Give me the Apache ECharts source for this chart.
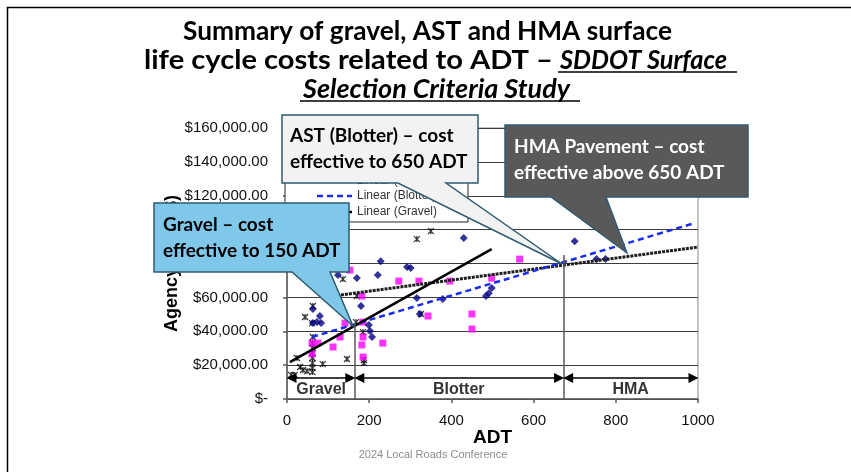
<!DOCTYPE html>
<html><head><meta charset="utf-8">
<script src="https://cdn.jsdelivr.net/npm/echarts@6/dist/echarts.min.js"></script>
<style>html,body{margin:0;padding:0;background:#fff}#c{width:851px;height:472px}</style>
</head><body><div id="c"></div>
<script>
// ---- data ----
const xTickValues = [0, 200, 400, 600, 800, 1000];
const yTickLabels = ['$-', '$20,000.00', '$40,000.00', '$60,000.00', '$80,000.00', '$100,000.00', '$120,000.00', '$140,000.00', '$160,000.00'];

const gravelPts = [
  [350, 99100], [316, 94400], [136, 70800], [170, 60800], [63, 54900], [44, 48400], [61, 44800],
  [63, 36600], [62, 33000], [62, 30100], [62, 27100], [62, 24200], [62, 21200], [62, 18300], [62, 15900],
  [24, 24200], [32, 18900], [39, 17100], [49, 16500], [10, 14200], [19, 14200], [87, 20600],
  [146, 23600], [187, 23000], [187, 21200], [168, 45400], [185, 39500], [326, 50200]
];
const blotterPts = [
  [153, 76100], [272, 69600], [321, 69600], [396, 69600], [566, 82600], [498, 71400], [182, 60800],
  [343, 49000], [450, 50200], [450, 41300], [141, 44800], [129, 36600], [112, 30700], [61, 33000],
  [75, 33000], [61, 26600], [182, 31900], [185, 24800], [233, 33000], [185, 36600], [185, 45400]
];
const hmaPts = [
  [430, 95000], [700, 93200], [228, 81400], [292, 77900], [301, 77300], [124, 73200], [170, 71400],
  [221, 73200], [753, 82600], [775, 82600], [498, 65500], [491, 62500], [484, 60800], [316, 59600],
  [379, 59000], [180, 54900], [323, 50200], [63, 53100], [80, 49000], [73, 45400], [83, 44800],
  [63, 44800], [136, 52500], [199, 43700], [202, 40100], [207, 36600]
];

const gravelTrend = [[7, 21800], [498, 88500]];
const blotterTrend = [[61, 36600], [991, 103800]];
const hmaTrend = [[112, 60800], [1000, 89700]];

const dividers = [[165, 45000], [673, 85000]];
const bandNames = ['Gravel', 'Blotter', 'HMA'];
const bandEdges = [0, 165, 673, 1000];
const bandArrowY = 12400;
const bandLabelPos = [[83, 5600], [418, 5600], [836, 5600]];

// ---- chart ----
const chart = echarts.init(document.getElementById('c'), null, {renderer: 'canvas'});
const axisFont = 'Liberation Sans, Arial, sans-serif';
const slideFont = 'Lato, Noto Sans, sans-serif';

const mc = document.createElement('canvas').getContext('2d');
function fitScale(txt, font, targetW) { mc.font = font; return targetW / mc.measureText(txt).width; }

const arrowData = [];
for (let i = 0; i < bandNames.length; i++) {
  arrowData.push([{coord: [bandEdges[i] + 11, bandArrowY]}, {coord: [bandEdges[i + 1] - 11, bandArrowY]}]);
}

const hmaLine = {color: '#1e1e1e', width: 3, type: [3, 1]};
const blotLine = {color: '#1a2cf0', width: 2.5, type: [6, 4]};
const gravLine = {color: '#000', width: 2.5};

const option = {
  animation: false,
  backgroundColor: '#fff',
  grid: {left: 287, right: 153, top: 128, bottom: 73, show: true, borderColor: '#8c8c8c', borderWidth: 1, backgroundColor: 'transparent'},
  xAxis: {
    type: 'value', min: 0, max: 1000, interval: 200,
    name: 'ADT', nameLocation: 'middle', nameGap: 29, nameMoveOverlap: false,
    nameTextStyle: {fontFamily: axisFont, fontWeight: 'bold', fontSize: 19, color: '#000'},
    axisLine: {show: true, lineStyle: {color: '#595959', width: 1.5}},
    axisTick: {show: true, length: 4, lineStyle: {color: '#595959', width: 1.5}},
    axisLabel: {fontFamily: axisFont, fontSize: 15, color: '#111', margin: 14,
      formatter: v => xTickValues.indexOf(v) >= 0 ? String(v) : ''},
    splitLine: {show: false}
  },
  yAxis: {
    type: 'value', min: 0, max: 160000, interval: 20000,
    name: 'Agency Cost ($)', nameLocation: 'middle', nameGap: 106, nameRotate: 90, nameMoveOverlap: false,
    nameTextStyle: {fontFamily: axisFont, fontWeight: 'bold', fontSize: 18, color: '#000'},
    axisLine: {show: true, lineStyle: {color: '#595959', width: 1.5}},
    axisTick: {show: true, length: 4, lineStyle: {color: '#595959', width: 1.5}},
    axisLabel: {fontFamily: axisFont, fontSize: 15, color: '#111', margin: 19,
      formatter: v => yTickLabels[Math.round(v / 20000)]},
    splitLine: {show: true, lineStyle: {color: '#3c3c3c', width: 1}}
  },
  series: [
    {name: 'Gravel', type: 'scatter', data: gravelPts, symbol: 'path://M0,0L10,10M10,0L0,10M5,0L5,10', symbolSize: 6,
      itemStyle: {color: 'rgba(0,0,0,0)', borderColor: '#000', borderWidth: 1.2}, z: 3},
    {name: 'Blotter', type: 'scatter', data: blotterPts, symbol: 'rect', symbolSize: 7,
      itemStyle: {color: '#ff00ff'}, z: 3},
    {name: 'HMA', type: 'scatter', data: hmaPts, symbol: 'diamond', symbolSize: 8,
      itemStyle: {color: '#000080'}, z: 3},
    {name: 'Linear (HMA)', type: 'line', data: hmaTrend, symbol: 'none', z: 4, lineStyle: hmaLine},
    {name: 'Linear (Blotter)', type: 'line', data: blotterTrend, symbol: 'none', z: 4, lineStyle: blotLine},
    {name: 'Linear (Gravel)', type: 'line', data: gravelTrend, symbol: 'none', z: 4, lineStyle: gravLine},
    {name: 'dividers', type: 'line', data: [], z: 2,
      markLine: {silent: true, symbol: 'none', label: {show: false},
        lineStyle: {color: '#595959', width: 1.5, type: 'solid'},
        data: dividers.map(d => [{coord: [d[0], 0]}, {coord: [d[0], d[1]]}])}},
    {name: 'bands', type: 'line', data: [], z: 5,
      markLine: {silent: true, symbol: ['triangle', 'triangle'], symbolSize: [10, 10], label: {show: false},
        lineStyle: {color: '#000', width: 1.5, type: 'solid'}, data: arrowData}},
    {name: 'bandLabels', type: 'scatter', symbolSize: 0, z: 5,
      data: bandLabelPos.map((p, i) => [p[0], p[1], bandNames[i]]),
      label: {show: true, position: 'inside', formatter: p => p.value[2],
        fontFamily: axisFont, fontWeight: 'bold', fontSize: 16, color: '#000'}}
  ],
  graphic: []
};

const teal = '#2e5b70';
function callout(points, fill) {
  return {type: 'polygon', z: 100, shape: {points: points}, style: {fill: fill, stroke: teal, lineWidth: 1.5}};
}
function ctext(x, y, txt, color, size) {
  return {type: 'text', z: 101, x: x, y: y, style: {text: txt, fill: color, font: 'bold ' + size + 'px ' + slideFont, textVerticalAlign: 'middle', lineHeight: 26}};
}
function legendEntry(y, ls, label) {
  return [
    {type: 'line', z: 6, shape: {x1: 317, y1: y, x2: 352, y2: y}, style: {stroke: ls.color, lineWidth: ls.width, lineDash: Array.isArray(ls.type) ? ls.type : null}},
    {type: 'text', z: 6, x: 357, y: y, style: {text: label, fill: '#333', font: '12px ' + axisFont, textVerticalAlign: 'middle'}}
  ];
}
const tFont = 'bold 27px ' + slideFont;
const tiFont = 'italic bold 27px ' + slideFont;
const t1 = 'Summary of gravel, AST and HMA surface';
const t2a = 'life cycle costs related to ADT – ';
const t2b = 'SDDOT Surface';
const t3 = 'Selection Criteria Study';
function titleText(x, y, txt, font, w) {
  return {type: 'text', z: 101, x: x, y: y, scaleX: fitScale(txt, font, w), style: {text: txt, fill: '#000', font: font, textAlign: 'left', textVerticalAlign: 'middle'}};
}

option.graphic = [
  // slide frame (left and top edges visible)
  {type: 'rect', z: 50, shape: {x: 7.5, y: 7.5, width: 880, height: 480}, style: {fill: 'none', stroke: '#000', lineWidth: 1.5}},
  // legend box (partly hidden behind callouts)
  {type: 'rect', z: 5, shape: {x: 285, y: 160, width: 183, height: 62}, style: {fill: '#fff', stroke: '#222', lineWidth: 1}},
  ...legendEntry(181, hmaLine, 'Linear (HMA)'),
  ...legendEntry(196, blotLine, 'Linear (Blotter)'),
  ...legendEntry(212, gravLine, 'Linear (Gravel)'),
  // title
  titleText(183, 31, t1, tFont, 489),
  titleText(144, 60, t2a, tFont, 416),
  titleText(560, 60, t2b, tiFont, 167),
  titleText(303, 89, t3, tiFont, 267),
  {type: 'line', z: 101, shape: {x1: 558, y1: 72, x2: 737, y2: 72}, style: {stroke: '#000', lineWidth: 1.5}},
  {type: 'line', z: 101, shape: {x1: 300, y1: 101, x2: 580, y2: 101}, style: {stroke: '#000', lineWidth: 1.5}},
  // callouts
  callout([[282, 115], [478, 115], [478, 183], [446, 183], [562, 264], [398, 183], [282, 183]], '#f2f2f2'),
  ctext(290, 149, 'AST (Blotter) – cost\neffective to 650 ADT', '#000', 19),
  callout([[505, 125], [748, 125], [748, 197], [606, 197], [627, 253], [551, 197], [505, 197]], '#595959'),
  ctext(514, 160, 'HMA Pavement – cost\neffective above 650 ADT', '#fff', 19),
  callout([[154, 203], [349, 203], [349, 272], [330, 272], [353, 326], [292, 272], [154, 272]], '#80c8ea'),
  ctext(163, 238, 'Gravel – cost\neffective to 150 ADT', '#000', 19),
  // footer
  {type: 'text', z: 101, x: 433, y: 455, style: {text: '2024 Local Roads Conference', fill: '#8c8c8c', font: '11px ' + axisFont, textAlign: 'center', textVerticalAlign: 'middle'}}
];

chart.setOption(option);
</script></body></html>
